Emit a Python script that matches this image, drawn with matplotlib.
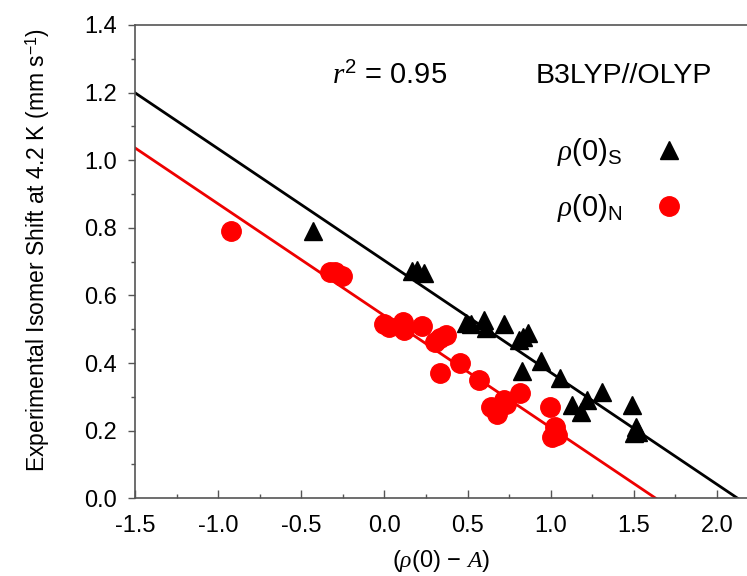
import matplotlib
matplotlib.use("Agg")
import matplotlib.pyplot as plt
import numpy as np
from matplotlib.ticker import MultipleLocator

plt.rcParams['font.family'] = ['Liberation Sans', 'DejaVu Sans']
plt.rcParams['mathtext.fontset'] = 'custom'
plt.rcParams['mathtext.rm'] = 'Liberation Sans'
plt.rcParams['mathtext.it'] = 'Liberation Serif:italic'

# rho(0)_S points (triangles)
s_x = [-0.43, 0.165, 0.195, 0.24, 0.49, 0.52, 0.60, 0.61, 0.72, 0.81, 0.835, 0.865,
       0.83, 0.94, 1.055, 1.13, 1.18, 1.22, 1.31, 1.49, 1.51, 1.50, 1.525]
s_y = [0.79, 0.673, 0.675, 0.667, 0.52, 0.515, 0.526, 0.505, 0.517, 0.468, 0.478, 0.488,
       0.376, 0.405, 0.355, 0.276, 0.256, 0.291, 0.315, 0.276, 0.212, 0.192, 0.197]

# rho(0)_N points (circles)
n_x = [-0.92, -0.33, -0.30, -0.255, 0.0, 0.03, 0.11, 0.115, 0.225, 0.305, 0.335, 0.37,
       0.335, 0.455, 0.566, 0.64, 0.676, 0.72, 0.73, 0.816, 0.995, 1.025, 1.005, 1.04]
n_y = [0.79, 0.668, 0.670, 0.658, 0.517, 0.507, 0.521, 0.499, 0.511, 0.463, 0.473, 0.483,
       0.37, 0.40, 0.35, 0.271, 0.248, 0.291, 0.28, 0.311, 0.271, 0.212, 0.182, 0.188]

# fitted lines: y = intercept + slope * x
s_fit = (0.703, -0.331)
n_fit = (0.540, -0.331)

fig = plt.figure(figsize=(7.47, 5.76), dpi=100)
ax = fig.add_axes([0.1807, 0.1349, 0.8193, 0.8217])

xl = np.array([-1.5, 2.3])
ax.plot(xl, s_fit[0] + s_fit[1] * xl, color='black', lw=2)
ax.plot(xl, n_fit[0] + n_fit[1] * xl, color='#ee0000', lw=2)

ax.plot(s_x, s_y, '^', color='black', ms=13, ls='none', label=r'$\rho(0)_\mathregular{S}$')
ax.plot(n_x, n_y, 'o', color='#ff0000', ms=14, ls='none', label=r'$\rho(0)_\mathregular{N}$')

ax.set_xlim(-1.5, 2.18)
ax.set_ylim(0, 1.4)

ax.xaxis.set_major_locator(MultipleLocator(0.5))
ax.xaxis.set_minor_locator(MultipleLocator(0.25))
ax.yaxis.set_major_locator(MultipleLocator(0.2))
ax.yaxis.set_minor_locator(MultipleLocator(0.1))
ax.xaxis.set_major_formatter(plt.FuncFormatter(lambda v, p: f"{v:.1f}"))
ax.yaxis.set_major_formatter(plt.FuncFormatter(lambda v, p: f"{v:.1f}"))

ax.tick_params(axis='x', which='major', direction='in', length=6, width=1, color='#555555', labelsize=17, pad=12)
ax.tick_params(axis='x', which='minor', direction='in', length=3, width=1, color='#555555')
ax.tick_params(axis='y', which='major', direction='out', length=5, width=1, color='#555555', labelsize=17, pad=8)
ax.tick_params(axis='y', which='minor', direction='out', length=3, width=1, color='#555555')

ax.spines['right'].set_visible(False)
for side in ['left', 'bottom', 'top']:
    ax.spines[side].set_color('#555555')
    ax.spines[side].set_linewidth(1.2)

ax.set_xlabel(r'($\rho$(0) $-$ $A$)', fontsize=17, labelpad=8)
ax.set_ylabel(r'Experimental Isomer Shift at 4.2 K (mm s$^{-1}$)', fontsize=16.5)
ax.yaxis.set_label_coords(-0.135, 0.525)

ax.text(0.03, 1.25, r'$r^2$ = 0.95', fontsize=21, ha='center', va='center')
ax.text(1.44, 1.25, 'B3LYP//OLYP', fontsize=20.5, ha='center', va='center')

ax.legend(loc='upper right', bbox_to_anchor=(0.94, 0.82), frameon=False, markerfirst=False,
          fontsize=21, handletextpad=1.1, labelspacing=0.8, handlelength=1.0)

fig.savefig('out.png', dpi=100)
